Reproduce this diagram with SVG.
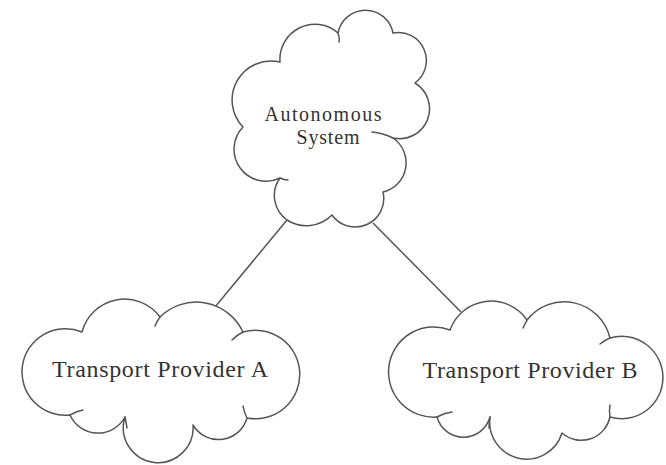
<svg xmlns="http://www.w3.org/2000/svg" width="666" height="465" viewBox="0 0 666 465">
<style>
.cloud{fill:#fff;stroke:#555;stroke-width:1.5;stroke-linejoin:round}
.tick{fill:none;stroke:#555;stroke-width:1.5;stroke-linecap:round}
.conn{stroke:#555;stroke-width:1.5;fill:none}
.lbl{font-family:"Liberation Serif","Times New Roman",serif;fill:#333;text-anchor:middle}
</style>
<rect width="666" height="465" fill="#fff"/>
<g id="connectors">
<line class="conn" x1="287" y1="220" x2="215" y2="307"/>
<line class="conn" x1="373" y1="223" x2="461" y2="312"/>
</g>
<g id="autonomous-system">
<path class="cloud" d="M280,62 A35,35 0 0 1 338,33 A28,28 0 0 1 393,33 A28,28 0 0 1 415,83 A30,30 0 0 1 393,138 A30,30 0 0 1 383,192 A28.5,28.5 0 0 1 332,215 A36,36 0 0 1 287,220 A30,30 0 0 1 280,178 A32,32 0 0 1 243,127 A39,39 0 0 1 280,62 Z"/>
<path class="tick" d="M393,138 Q383,133 372,132"/>
<path class="tick" d="M338,33 Q340,38 339,42"/>
<path class="tick" d="M280,178 Q284,180 288,180"/>
<text class="lbl" x="323" y="121" font-size="20" textLength="117" lengthAdjust="spacing">Autonomous</text>
<text class="lbl" x="328" y="144" font-size="20" textLength="63" lengthAdjust="spacing">System</text>
</g>
<g id="provider-a">
<path class="cloud" d="M82,332 A44,44 0 0 1 160,317 A51.5,51.5 0 0 1 243,332 A44.3,44.3 0 1 1 247,418 A29.6,29.6 0 0 1 193,425 A34.9,34.9 0 1 1 125,417 A30.7,30.7 0 0 1 70,415 A43.3,43.3 0 1 1 82,332 Z"/>
<path class="tick" d="M160,317 Q157,321 155,326"/>
<path class="tick" d="M243,332 Q237,335 232,340"/>
<path class="tick" d="M247,418 Q244,412 243,406"/>
<path class="tick" d="M125,417 Q126,422 127,428"/>
<path class="tick" d="M70,415 Q77,411 83,410"/>
<text class="lbl" x="160" y="377" font-size="24" textLength="216" lengthAdjust="spacing">Transport Provider A</text>
</g>
<g id="provider-b">
<path class="cloud" d="M450,330 A43.6,43.6 0 0 1 527,320 A47.1,47.1 0 0 1 610,338 A41.2,41.2 0 1 1 610,417 A29.3,29.3 0 0 1 562,433 A37,37 0 0 1 490,417 A27.5,27.5 0 0 1 437,417 A45.1,45.1 0 1 1 450,330 Z"/>
<path class="tick" d="M527,320 Q525,324 523,328"/>
<path class="tick" d="M610,338 Q605,340 600,344"/>
<path class="tick" d="M610,417 Q609,411 610,405"/>
<path class="tick" d="M490,417 Q489,422 489,428"/>
<path class="tick" d="M437,417 Q444,413 452,412"/>
<text class="lbl" x="530" y="378" font-size="24" textLength="215" lengthAdjust="spacing">Transport Provider B</text>
</g>
</svg>
